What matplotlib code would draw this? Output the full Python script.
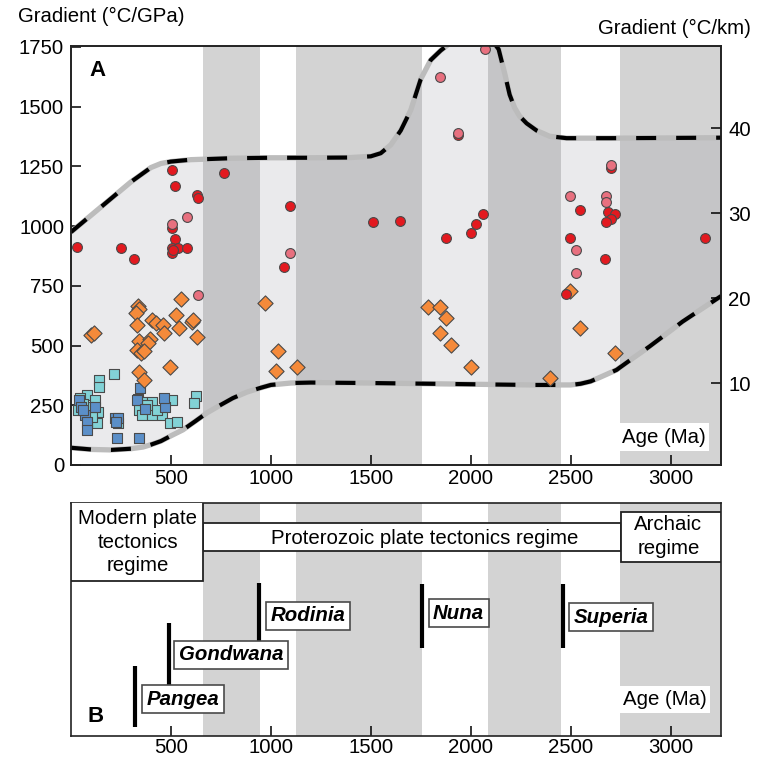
import numpy as np
import matplotlib
matplotlib.use("Agg")
import matplotlib.pyplot as plt
from matplotlib.patches import Rectangle

FS = 14.7
plt.rcParams["font.family"] = ["Liberation Sans", "DejaVu Sans"]
plt.rcParams["font.size"] = FS

# Supercontinent intervals (Ma) shown as grey bands
bands = [(661, 945), (1125, 1758), (2087, 2453), (2745, 3253)]

# Envelope of thermal gradients
upper_age = [0, 100, 200, 300, 400, 450, 500, 600, 800, 1000, 1200, 1400, 1500, 1550,
             1600, 1650, 1700, 1750, 1800, 1850, 1900, 1950, 2000, 2050, 2100, 2140,
             2170, 2195, 2220, 2245, 2280, 2330, 2395, 2480, 2700, 3000, 3253]
upper_grad = [975, 1045, 1115, 1185, 1245, 1262, 1270, 1278, 1284, 1286, 1286, 1287, 1292, 1305,
              1340, 1400, 1485, 1615, 1695, 1735, 1768, 1800, 1815, 1810, 1785, 1740,
              1640, 1550, 1495, 1460, 1430, 1400, 1376, 1368, 1368, 1369, 1370]
lower_age = [0, 100, 200, 300, 360, 400, 450, 500, 560, 620, 680, 750, 810, 880, 945, 1000,
             1100, 1200, 1500, 2000, 2300, 2500, 2550, 2600, 2650, 2730, 2800, 2895, 3000,
             3060, 3150, 3253]
lower_grad = [72, 65, 63, 68, 75, 85, 100, 122, 147, 182, 218, 252, 280, 305, 322, 335,
              343, 345, 343, 338, 335, 335, 340, 350, 368, 398, 440, 496, 562,
              600, 650, 707]

# Samples (age in Ma, gradient in degC/GPa)
red_age = [28, 250, 317, 503, 520, 628, 637, 507, 520, 503, 537, 578, 503, 512, 765, 1098,
           1065, 1512, 1645, 1878, 2003, 2028, 2062, 1937, 2548, 2687, 2723, 2703, 2678,
           2498, 2673, 2478, 3175, 2700]
red_grad = [914, 907, 863, 1235, 1166, 1131, 1117, 991, 945, 907, 907, 907, 886, 898, 1224, 1086,
            828, 1019, 1023, 952, 973, 1008, 1051, 1380, 1068, 1061, 1051, 1029, 1016,
            952, 863, 716, 952, 1245]
pink_age = [507, 578, 633, 1098, 2070, 1848, 1937, 2700, 2498, 2678, 2678, 2528, 2528]
pink_grad = [1009, 1036, 712, 886, 1741, 1624, 1389, 1254, 1124, 1124, 1099, 900, 805]
orange_age = [973, 1037, 1028, 1132, 1787, 1845, 1878, 1845, 1903, 2000, 2548, 2720, 2398,
              2495, 333, 340, 323, 328, 403, 423, 462, 467, 525, 540, 603, 608, 628, 100,
              117, 340, 395, 383, 328, 350, 367, 495, 340, 367, 550]
orange_grad = [677, 479, 395, 409, 663, 663, 614, 551, 503, 409, 575, 468, 363,
               730, 666, 652, 635, 586, 607, 596, 586, 552, 628, 572, 600, 605, 537, 544,
               552, 521, 526, 510, 482, 470, 475, 412, 391, 356, 694]
cyan_age = [217, 142, 142, 78, 45, 120, 87, 137, 128, 37, 237, 337, 357, 407, 340, 353,
            403, 453, 503, 495, 528, 625, 617, 60, 105, 380, 430]
cyan_grad = [381, 356, 325, 293, 279, 272, 244, 223, 177, 230, 177, 275, 265, 265, 230, 209,
             209, 209, 272, 177, 181, 289, 261, 255, 200, 250, 230]
blue_age = [40, 50, 70, 78, 78, 120, 220, 237, 228, 345, 328, 370, 470, 467, 340, 60, 225]
blue_grad = [272, 244, 209, 181, 147, 244, 195, 195, 112, 321, 272, 233, 244, 279, 112, 230, 180]

# Panel B: supercontinent assembly ages and marker extents (axes fraction)
continents = ["Pangea", "Gondwana", "Rodinia", "Nuna", "Superia"]
cont_age = [318, 490, 942, 1758, 2462]
cont_bar = [(0.036, 0.30), (0.214, 0.483), (0.406, 0.657), (0.377, 0.653), (0.377, 0.653)]
cont_label = [(560, 0.156), (800, 0.348), (1187, 0.515), (1940, 0.525), (2702, 0.509)]

xmax = 3253
band_c = "#d3d3d3"
edge = "#4a4a4a"

fig = plt.figure(figsize=(7.67, 7.62), dpi=100)
axA = fig.add_axes([0.0926, 0.3898, 0.8475, 0.5502])
axB = fig.add_axes([0.0926, 0.0345, 0.8475, 0.3058])

# ---- panel A
for a0, a1 in bands:
    axA.axvspan(a0, a1, color=band_c, lw=0, zorder=0)
lower_on_upper = np.interp(upper_age, lower_age, lower_grad)
axA.fill_between(upper_age, lower_on_upper, upper_grad,
                 color="#80808c", alpha=0.16, lw=0, zorder=1)
for ages, grads in [(upper_age, upper_grad), (lower_age, lower_grad)]:
    axA.plot(ages, grads, color="#bcbcbc", lw=3.8, solid_capstyle="butt", zorder=2)
    axA.plot(ages, grads, color="black", lw=3, ls=(0, (4.8, 4.8)),
             dash_capstyle="butt", zorder=3)

mk = dict(edgecolors=edge, linewidths=0.8, zorder=4)
axA.scatter(cyan_age, cyan_grad, s=44, marker="s", c="#82d2d6", **mk)
axA.scatter(blue_age, blue_grad, s=44, marker="s", c="#5b8fc8", **mk)
axA.scatter(orange_age, orange_grad, s=60, marker="D", c="#f58a3a", **mk)
axA.scatter(red_age, red_grad, s=50, marker="o", c="#e3191f", **mk)
axA.scatter(pink_age, pink_grad, s=50, marker="o", c="#e8707f", **mk)

axA.set_xlim(0, xmax)
axA.set_ylim(0, 1755)
axA.set_xticks([500, 1000, 1500, 2000, 2500, 3000])
axA.set_yticks(np.arange(0, 1751, 250))
axA.tick_params(direction="in", length=7, width=1.1, pad=5, labelsize=FS)
axA.tick_params(axis="x", pad=3)

ax2 = axA.twinx()
ax2.set_ylim(0.39, 49.7)
ax2.set_yticks([10, 20, 30, 40])
ax2.tick_params(direction="in", length=7, width=1.1, pad=5, labelsize=FS)

axA.text(90, 1650, "A", fontsize=16, fontweight="bold", va="center", zorder=6)
axA.text(2965, 117, "Age (Ma)", ha="center", va="center", zorder=6,
         bbox=dict(boxstyle="square,pad=0.2", fc="white", ec="none"))

# ---- panel B
for a0, a1 in bands:
    axB.axvspan(a0, a1, color=band_c, lw=0, zorder=0)

axB.add_patch(Rectangle((661, 0.791), 2753 - 661, 0.121, fc="white", ec="#222", lw=1.3, zorder=2))
axB.add_patch(Rectangle((0, 0.664), 661, 0.34, fc="white", ec="#222", lw=1.3, zorder=3))
axB.add_patch(Rectangle((2753, 0.745), xmax - 2753, 0.217, fc="white", ec="#222", lw=1.3, zorder=3))
axB.text(334, 0.831, "Modern plate\ntectonics\nregime", ha="center", va="center",
         linespacing=1.3, zorder=4)
axB.text(1768, 0.848, "Proterozoic plate tectonics regime", ha="center", va="center", zorder=4)
axB.text(2990, 0.855, "Archaic\nregime", ha="center", va="center", linespacing=1.3, zorder=4)

for name, age, (y0, y1), (lx, ly) in zip(continents, cont_age, cont_bar, cont_label):
    axB.plot([age, age], [y0, y1], color="black", lw=3, solid_capstyle="butt", zorder=4)
    axB.text(lx, ly, name, ha="center", va="center", fontweight="bold", style="italic",
             zorder=5, bbox=dict(boxstyle="square,pad=0.22", fc="white", ec=edge, lw=1.2))

axB.text(80, 0.084, "B", fontsize=16, fontweight="bold", va="center", zorder=6)
axB.text(2970, 0.156, "Age (Ma)", ha="center", va="center", zorder=6,
         bbox=dict(boxstyle="square,pad=0.2", fc="white", ec="none"))

axB.set_xlim(0, xmax)
axB.set_ylim(0, 1)
axB.set_xticks([500, 1000, 1500, 2000, 2500, 3000])
axB.set_yticks([])
axB.tick_params(direction="in", length=7, width=1.1, pad=2, labelsize=FS)

for ax in (axA, ax2, axB):
    for sp in ax.spines.values():
        sp.set_linewidth(1.2)
        sp.set_color("#222")

fig.text(0.0235, 0.979, "Gradient (°C/GPa)", ha="left", va="center", fontsize=FS)
fig.text(0.979, 0.962, "Gradient (°C/km)", ha="right", va="center", fontsize=FS)

fig.savefig("out.png", dpi=100)
